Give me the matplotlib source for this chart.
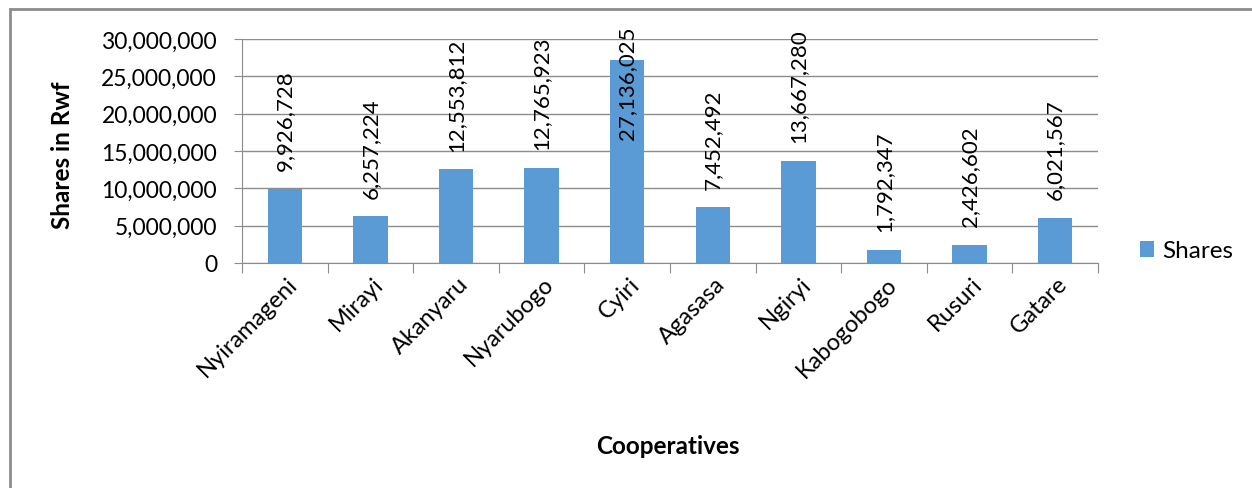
import matplotlib.pyplot as plt
from matplotlib.patches import Rectangle
from matplotlib.ticker import FuncFormatter

plt.rcParams['font.family'] = ['Lato', 'DejaVu Sans']

coops = ['Nyiramageni', 'Mirayi', 'Akanyaru', 'Nyarubogo', 'Cyiri',
         'Agasasa', 'Ngiryi', 'Kabogobogo', 'Rusuri', 'Gatare']
shares = [9926728, 6257224, 12553812, 12765923, 27136025,
          7452492, 13667280, 1792347, 2426602, 6021567]

bar_color = '#5B9BD5'
grid_color = '#8C8C8C'

fig = plt.figure(figsize=(12.52, 4.89), dpi=100)
ax = fig.add_axes([242 / 1252, 1 - 264 / 489, 856 / 1252, 224 / 489])

x = list(range(len(coops)))
bars = ax.bar(x, shares, width=0.4, color=bar_color, label='Shares', zorder=3)

ax.set_xlim(-0.5, len(coops) - 0.5)
ax.set_ylim(0, 30000000)
ax.set_yticks(range(0, 30000001, 5000000))
ax.yaxis.set_major_formatter(FuncFormatter(lambda v, p: f'{int(v):,}'))
ax.tick_params(axis='y', labelsize=16.5, length=6, color=grid_color, pad=12)
ax.grid(axis='y', color=grid_color, linewidth=1, zorder=0)

# category ticks between bars, labels at bar centres
ax.set_xticks([i - 0.5 for i in range(len(coops) + 1)])
ax.set_xticklabels([])
ax.tick_params(axis='x', length=7, color=grid_color)
for i, name in enumerate(coops):
    ax.text(i + 0.02, -1300000, name, rotation=45, ha='right', va='top',
            rotation_mode='anchor', fontsize=17)

for s in ['top', 'right']:
    ax.spines[s].set_visible(False)
for s in ['left', 'bottom']:
    ax.spines[s].set_color(grid_color)

# value labels (Excel pushes the tallest one down to stay in the chart)
max_base = 16600000
for i, v in enumerate(shares):
    base = min(v + 2500000, max_base)
    ax.text(i, base, f'{v:,}', rotation=90, ha='center', va='bottom',
            fontsize=16, clip_on=False, zorder=4)

fig.text(62 / 1252, 1 - 155 / 489, 'Shares in Rwf', rotation=90, ha='center',
         va='center', fontsize=17.5, fontweight='bold')
fig.text(668 / 1252, 1 - 447 / 489, 'Cooperatives', ha='center', va='center',
         fontsize=17.5, fontweight='bold')

fig.legend(handles=[bars], labels=['Shares'], loc='center left',
           bbox_to_anchor=(1118 / 1252, 1 - 252 / 489), frameon=False,
           fontsize=17.5, handlelength=0.6, handleheight=0.6, handletextpad=0.3)

fig.patches.append(Rectangle((10 / 1252, -0.1), 1.2, 1 - 10 / 489 + 0.1,
                             transform=fig.transFigure, fill=False,
                             edgecolor='#8C8C8C', linewidth=2))

fig.savefig('out.png', dpi=100)
